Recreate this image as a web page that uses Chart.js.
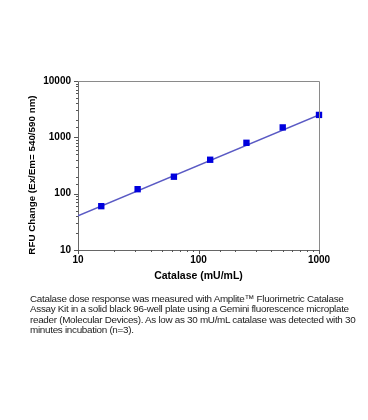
<!DOCTYPE html>
<html>
<head>
<meta charset="utf-8">
<script src="https://cdn.jsdelivr.net/npm/chart.js@4/dist/chart.umd.min.js"></script>
<style>
  html, body { margin: 0; padding: 0; background: #fff; }
  #wrap { position: relative; width: 368px; height: 420px; }
  #c { position: absolute; left: 0; top: 0; }
  #cap { position: absolute; left: 30px; top: 294px; font-family: "Liberation Sans", Arial, sans-serif;
         font-size: 9.9px; line-height: 10.4px; color: #222; white-space: nowrap; letter-spacing: -0.3px; }
</style>
</head>
<body>
<div id="wrap">
  <canvas id="c" width="368" height="420"></canvas>
  <div id="cap">Catalase dose response was measured with Amplite™ Fluorimetric Catalase<br>Assay Kit in a solid black 96-well plate using a Gemini fluorescence microplate<br>reader (Molecular Devices). As low as 30 mU/mL catalase was detected with 30<br>minutes incubation (n=3).</div>
</div>
<script>
const catalase = [15.6, 31.25, 62.5, 125, 250, 500, 1000];
const rfu = [60, 120, 200, 400, 800, 1500, 2500];
const fitX = [10, 1000];
const fitY = [40.6, 2500];
const xMajorTicks = [10, 100, 1000];
const yMajorTicks = [10, 100, 1000, 10000];

const tickPlugin = {
  id: 'ticksAndBox',
  afterDraw(chart) {
    const ctx = chart.ctx;
    const a = chart.chartArea;
    ctx.save();
    ctx.strokeStyle = '#8a8a8a';
    ctx.lineWidth = 1;
    ctx.beginPath();
    ctx.moveTo(a.left, a.top + 0.5); ctx.lineTo(a.right + 0.5, a.top + 0.5); ctx.lineTo(a.right + 0.5, a.bottom);
    ctx.stroke();
    ctx.strokeStyle = '#555';
    const xs = chart.scales.x, ys = chart.scales.y;
    xs.ticks.forEach(t => {
      const px = Math.round(xs.getPixelForValue(t.value)) + 0.5;
      const len = xMajorTicks.includes(t.value) ? 4 : 2;
      ctx.beginPath(); ctx.moveTo(px, a.bottom); ctx.lineTo(px, a.bottom + len); ctx.stroke();
    });
    ys.ticks.forEach(t => {
      const py = Math.round(ys.getPixelForValue(t.value)) + 0.5;
      const len = yMajorTicks.includes(t.value) ? 4 : 2;
      ctx.beginPath(); ctx.moveTo(a.left, py); ctx.lineTo(a.left - len, py); ctx.stroke();
    });
    ctx.restore();
  }
};

new Chart(document.getElementById('c'), {
  type: 'scatter',
  data: {
    datasets: [
      {
        label: 'fit',
        data: fitX.map((x, i) => ({x, y: fitY[i]})),
        showLine: true,
        borderColor: '#5a5ac4',
        borderWidth: 1.5,
        pointRadius: 0,
        order: 2
      },
      {
        label: 'data',
        data: catalase.map((x, i) => ({x, y: rfu[i]})),
        pointStyle: 'rect',
        pointRadius: 4.5,
        backgroundColor: '#0000dd',
        borderColor: '#0000dd',
        borderWidth: 0,
        order: 1,
        clip: false
      }
    ]
  },
  options: {
    responsive: false,
    animation: false,
    events: [],
    layout: { padding: { left: 20, right: 49, top: 81, bottom: 138 } },
    plugins: { legend: { display: false }, tooltip: { enabled: false } },
    scales: {
      x: {
        type: 'logarithmic',
        min: 10, max: 1000,
        afterFit: s => { s.height = 32; },
        grid: { drawOnChartArea: false, drawTicks: true, tickLength: 4, color: 'rgba(0,0,0,0)' },
        border: { color: '#666', width: 1 },
        ticks: {
          autoSkip: false, maxRotation: 0, padding: 0,
          color: '#000',
          font: { family: 'Liberation Sans, Arial, sans-serif', size: 10, weight: 'bold' },
          callback: v => xMajorTicks.includes(v) ? String(v) : ''
        },
        title: {
          display: true, text: 'Catalase (mU/mL)', color: '#000',
          padding: { top: 0, bottom: 0 },
          font: { family: 'Liberation Sans, Arial, sans-serif', size: 10.5, weight: 'bold' }
        }
      },
      y: {
        type: 'logarithmic',
        min: 10, max: 10000,
        afterFit: s => { s.width = 58; },
        grid: { drawOnChartArea: false, drawTicks: true, tickLength: 4, color: 'rgba(0,0,0,0)' },
        border: { color: '#666', width: 1 },
        ticks: {
          autoSkip: false, padding: 3,
          color: '#000',
          font: { family: 'Liberation Sans, Arial, sans-serif', size: 10, weight: 'bold' },
          callback: v => yMajorTicks.includes(v) ? String(v) : ''
        },
        title: {
          display: true, text: 'RFU Change (Ex/Em= 540/590 nm)\u00a0\u00a0\u00a0\u00a0\u00a0\u00a0\u00a0', color: '#000',
          padding: { top: 6, bottom: 0 },
          font: { family: 'Liberation Sans, Arial, sans-serif', size: 9.8, weight: 'bold' }
        }
      }
    }
  },
  plugins: [tickPlugin]
});
</script>
</body>
</html>
